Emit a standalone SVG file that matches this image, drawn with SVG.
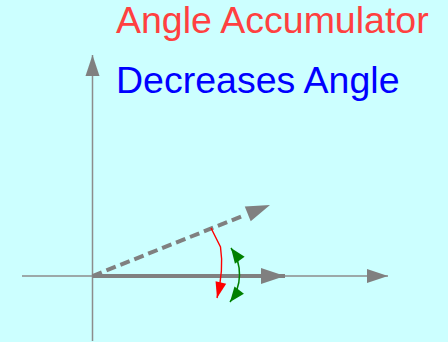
<svg xmlns="http://www.w3.org/2000/svg" width="448" height="342" viewBox="0 0 448 342">
  <style>
    .title { font-family: "Liberation Sans", Arial, sans-serif; font-size: 37.5px; }
    .axis { fill: none; stroke: #8c8c8c; stroke-width: 1.5; }
    .vec { fill: none; stroke: #808080; stroke-width: 4; }
    .dash { stroke-dasharray: 10 5; }
    .acc { fill: none; stroke: #ff0000; stroke-width: 1.4; }
    .dec { fill: none; stroke: #008000; stroke-width: 1.5; }
  </style>
  <defs>
    <marker id="axisHead" markerUnits="userSpaceOnUse" markerWidth="22" markerHeight="14" refX="21" refY="0" orient="auto" overflow="visible">
      <path d="M0,-7 L21,0 L0,7 z" fill="#808080"/>
    </marker>
    <marker id="vecHead" markerUnits="userSpaceOnUse" markerWidth="24" markerHeight="16" refX="24" refY="0" orient="auto" overflow="visible">
      <path d="M0,-8 L24,0 L0,8 z" fill="#808080"/>
    </marker>
    <marker id="vecHeadD" markerUnits="userSpaceOnUse" markerWidth="24" markerHeight="16" refX="-2.2" refY="0" orient="auto" overflow="visible">
      <path d="M0,-8 L24,0 L0,8 z" fill="#808080"/>
    </marker>
    <marker id="redHead" markerUnits="userSpaceOnUse" markerWidth="16" markerHeight="11" refX="16" refY="0" orient="auto" overflow="visible">
      <path d="M0,-5.5 L16,0 L0,5.5 z" fill="#ff0000"/>
    </marker>
    <marker id="greenHead" markerUnits="userSpaceOnUse" markerWidth="15" markerHeight="12" refX="15" refY="0" orient="auto-start-reverse" overflow="visible">
      <path d="M0,-6 L15,0 L0,6 z" fill="#008000"/>
    </marker>
  </defs>
  <rect width="448" height="342" fill="#ccffff"/>

  <g id="title-accumulator">
    <text class="title" x="116" y="33" fill="#ff4040">Angle Accumulator</text>
  </g>
  <g id="title-decreases">
    <text class="title" x="116" y="93" fill="#0000ff">Decreases Angle</text>
  </g>

  <g id="connectors">
    <path id="x-axis" class="axis" d="M22,276 L388,276" marker-end="url(#axisHead)"/>
    <path id="y-axis" class="axis" d="M92.5,341 L92.5,55" marker-end="url(#axisHead)"/>
    <path id="vector-rotated" class="vec dash" d="M92.5,276 L245.7,214.7" marker-end="url(#vecHeadD)"/>
    <path id="vector-base" class="vec" d="M92.5,276 L285,276" marker-end="url(#vecHead)"/>
    <path id="angle-accumulator" class="acc" d="M211,228 L220.5,247 Q224,270 217,298" marker-end="url(#redHead)"/>
    <path id="angle-range" class="dec" d="M231,248 A45,45 0 0 1 230,302" marker-start="url(#greenHead)" marker-end="url(#greenHead)"/>
  </g>
</svg>
